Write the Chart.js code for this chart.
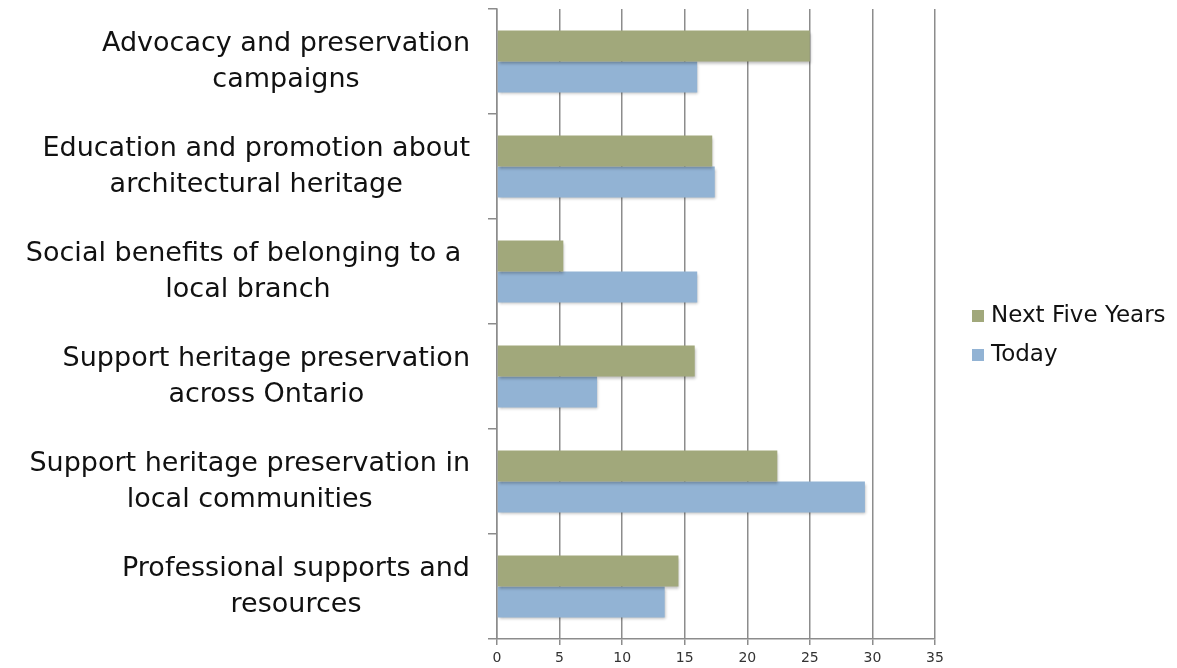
<!DOCTYPE html>
<html lang="en">
<head>
  <meta charset="utf-8">
  <title>Priorities: Today vs Next Five Years</title>
  <style>
    * { box-sizing: border-box; margin: 0; padding: 0; }
    html, body { width: 1177px; height: 668px; background: #ffffff; overflow: hidden; }
    #wrap { position: relative; width: 1177px; height: 668px; }
  </style>
  <script src="https://cdn.jsdelivr.net/npm/chart.js"></script>
</head>
<body>
  <div id="wrap"><canvas id="chart"></canvas></div>
  <script>
    // data
    const categories = [
      ['Advocacy and preservation', 'campaigns'],
      ['Education and promotion about', 'architectural heritage'],
      ['Social benefits of belonging to a ', 'local branch'],
      ['Support heritage preservation', 'across Ontario'],
      ['Support heritage preservation in', 'local communities'],
      ['Professional supports and', 'resources']
    ];
    const seriesNames = ['Next Five Years', 'Today'];
    const nextFiveYears = [25.0, 17.2, 5.3, 15.8, 22.4, 14.5];
    const today = [16.0, 17.4, 16.0, 8.0, 29.4, 13.4];
    const xTicks = [0, 5, 10, 15, 20, 25, 30, 35];

    const FONT = "'DejaVu Sans', sans-serif";
    const GRID = '#8c8c8c';

    // soft shadow under the bars, like the original
    const barShadow = {
      id: 'barShadow',
      beforeDatasetsDraw(chart) {
        const ctx = chart.ctx;
        ctx.save();
        ctx.shadowColor = 'rgba(0,0,0,0.28)';
        ctx.shadowBlur = 3;
        ctx.shadowOffsetX = 1;
        ctx.shadowOffsetY = 2;
      },
      afterDatasetsDraw(chart) { chart.ctx.restore(); }
    };

    // category labels: block right-aligned to the axis, lines centred inside the block
    const centredLabels = {
      id: 'centredLabels',
      afterDraw(chart) {
        const ctx = chart.ctx;
        const yScale = chart.scales.y;
        const right = 470, lh = 36;
        ctx.save();
        ctx.font = '27px ' + FONT;
        ctx.fillStyle = '#111';
        ctx.textAlign = 'center';
        ctx.textBaseline = 'middle';
        chart.data.labels.forEach((lines, i) => {
          const widest = Math.max(...lines.map(l => ctx.measureText(l).width));
          const cx = right - widest / 2;
          const cy = yScale.getPixelForTick(i);
          lines.forEach((l, j) => {
            ctx.fillText(l, cx, cy + (j - (lines.length - 1) / 2) * lh);
          });
        });
        ctx.restore();
      }
    };

    // legend drawn by hand so it sits where the original has it
    const sideLegend = {
      id: 'sideLegend',
      afterDraw(chart) {
        const ctx = chart.ctx;
        ctx.save();
        ctx.font = '23px ' + FONT;
        ctx.textBaseline = 'middle';
        chart.data.datasets.forEach((ds, i) => {
          const y = 316 + i * 39;
          ctx.fillStyle = ds.backgroundColor;
          ctx.fillRect(972, y - 6, 12, 12);
          ctx.fillStyle = '#111';
          ctx.fillText(ds.label, 991, y);
        });
        ctx.restore();
      }
    };

    const canvas = document.getElementById('chart');
    canvas.width = 1177; canvas.height = 668;

    new Chart(canvas, {
      type: 'bar',
      data: {
        labels: categories,
        datasets: [
          { label: seriesNames[0], data: nextFiveYears, backgroundColor: '#a1a87b' },
          { label: seriesNames[1], data: today, backgroundColor: '#92b3d4' }
        ]
      },
      options: {
        indexAxis: 'y',
        responsive: false,
        animation: false,
        layout: { padding: { top: 9, right: 242, bottom: 0, left: 0 } },
        datasets: { bar: { categoryPercentage: 0.59, barPercentage: 1.0 } },
        plugins: { legend: { display: false }, tooltip: { enabled: false } },
        scales: {
          x: {
            min: 0, max: 35,
            afterBuildTicks(scale) { scale.ticks = xTicks.map(v => ({ value: v })); },
            afterFit(scale) { scale.height = 29; scale.paddingLeft = 0; scale.paddingRight = 0; },
            grid: { color: GRID, lineWidth: 1.5, tickLength: 6 },
            border: { color: GRID, width: 1.5 },
            ticks: { color: '#333', font: { family: FONT, size: 14 }, padding: 5 }
          },
          y: {
            afterFit(scale) { scale.width = 497; scale.paddingTop = 0; scale.paddingBottom = 0; },
            grid: { drawOnChartArea: false, color: GRID, lineWidth: 1.5, tickLength: 9 },
            border: { color: GRID, width: 1.5 },
            ticks: { display: false }
          }
        }
      },
      plugins: [barShadow, centredLabels, sideLegend]
    });
  </script>
</body>
</html>
